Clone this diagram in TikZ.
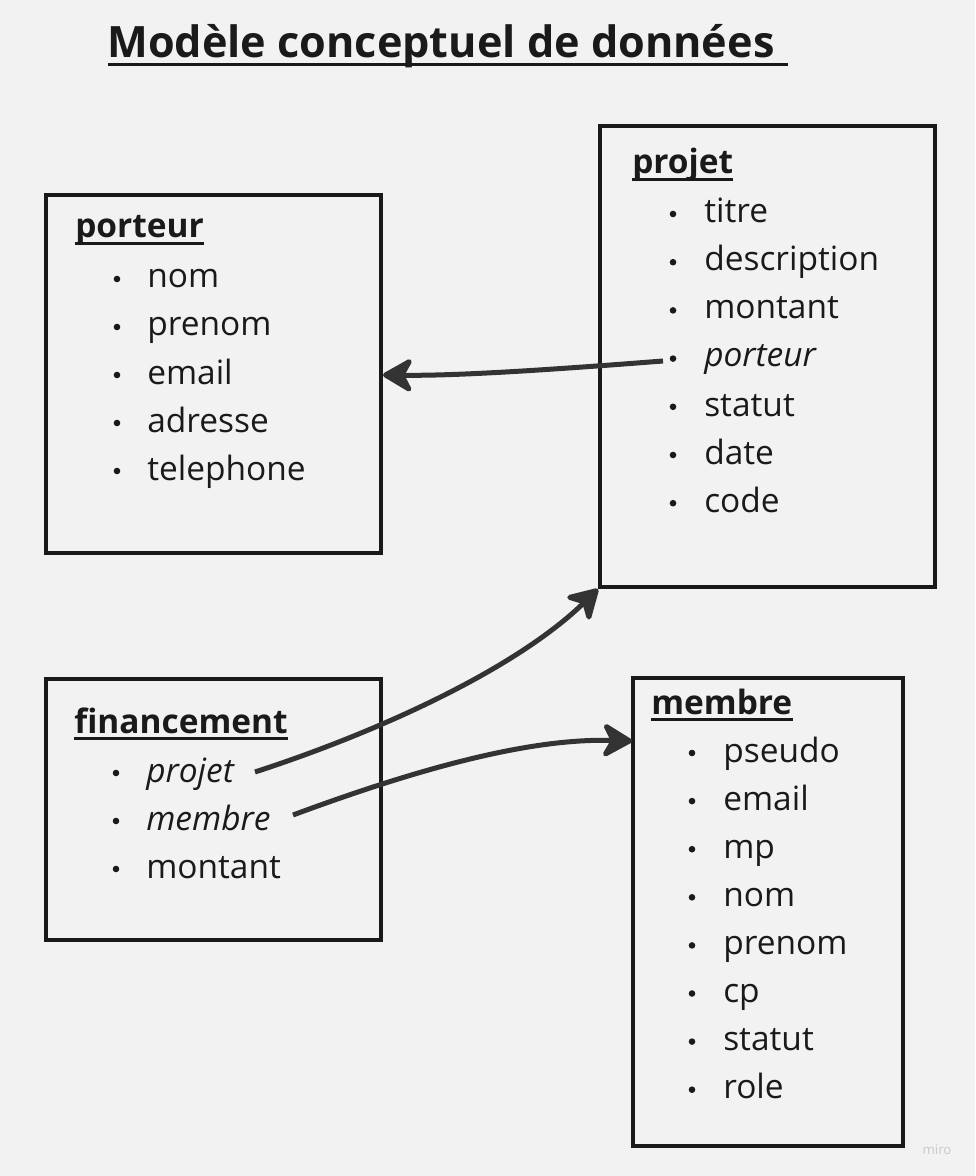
\documentclass[tikz,border=0pt]{standalone}
\usepackage{fontspec}
\setmainfont{Open Sans}
\usetikzlibrary{arrows.meta}
\definecolor{bg}{HTML}{F2F2F2}
\definecolor{ink}{HTML}{1A1A1A}
\definecolor{arr}{HTML}{333333}
\definecolor{wm}{HTML}{C8C8D0}
\tikzset{
  entbox/.style={draw=ink, line width=3pt, fill=none},
  hdr/.style={inner sep=0pt, anchor=base west, text=ink, font=\fontsize{25.1pt}{28pt}\selectfont\bfseries},
  item/.style={inner sep=0pt, anchor=base west, text=ink, font=\fontsize{25.1pt}{28pt}\selectfont},
  itemit/.style={item, font=\fontsize{25.1pt}{28pt}\selectfont\itshape},
  ulin/.style={draw=ink, line width=1.9pt},
  link/.style={draw=arr, line width=3.75pt, -{Stealth[length=26pt, width=30pt, inset=8pt, round]}},
}
\newcommand{\bul}[2]{\fill[ink] (#1,#2-9) circle (3.3);}
\begin{document}
\begin{tikzpicture}[x=0.75pt, y=-0.75pt]
\useasboundingbox (0,0) rectangle (975,1176);
\fill[bg] (0,0) rectangle (975,1176);

% title
\node[inner sep=0pt, anchor=base west, text=ink, font=\fontsize{32.4pt}{36pt}\selectfont\bfseries] (title) at (107,58) {Modèle conceptuel de données};
\draw[draw=ink, line width=2.3pt] (108,64.5) -- (788,64.5);

% boxes
\draw[entbox] (46,195) rectangle (381,553);
\draw[entbox] (600,126) rectangle (935,587);
\draw[entbox] (46,679) rectangle (381,940);
\draw[entbox] (633,678) rectangle (903,1146);
\coordinate (porteurE) at (383,375);
\coordinate (projetSW) at (598,589);
\coordinate (membreW) at (632,741);

% porteur
\node[hdr] (hporteur) at (75,238) {porteur};
\draw[ulin] ([yshift=-4pt]hporteur.base west) -- ([yshift=-4pt]hporteur.base east);
\foreach \t [count=\i from 0] in {nom,prenom,email,adresse,telephone}{
  \node[item] (po\i) at (147,288+48*\i) {\t};
  \bul{117}{288+48*\i}
}

% projet
\node[hdr] (hprojet) at (632,174) {projet};
\draw[ulin] ([yshift=-4pt]hprojet.base west) -- ([yshift=-4pt]hprojet.base east);
\node[item] (pr0) at (704,223) {titre};
\node[item] (pr1) at (704,271) {description};
\node[item] (pr2) at (704,319) {montant};
\node[itemit] (pr3) at (704,367) {porteur};
\node[item] (pr4) at (704,416) {statut};
\node[item] (pr5) at (704,464) {date};
\node[item] (pr6) at (704,512) {code};
\foreach \i in {0,...,6}{ \bul{673}{223+48.2*\i} }
\coordinate (prporteur) at (663,361);

% financement
\node[hdr] (hfin) at (74,733) {financement};
\draw[ulin] ([yshift=-4pt]hfin.base west) -- ([yshift=-4pt]hfin.base east);
\node[itemit] (fi0) at (146,782) {projet};
\node[itemit] (fi1) at (146,830) {membre};
\node[item] (fi2) at (146,878) {montant};
\foreach \i in {0,1,2}{ \bul{116}{782+48*\i} }
\coordinate (fiprojet) at (255,772);
\coordinate (fimembre) at (293,815);

% membre
\node[hdr] (hmembre) at (651,714) {membre};
\draw[ulin] ([yshift=-4pt]hmembre.base west) -- ([yshift=-4pt]hmembre.base east);
\foreach \t [count=\i from 0] in {pseudo,email,mp,nom,prenom,cp,statut,role}{
  \node[item] (me\i) at (723,762+48.1*\i) {\t};
  \bul{692}{762+48.1*\i}
}

% connectors
\draw[link] (prporteur) .. controls (560,369) and (460,376) .. (porteurE);
\draw[link] (fiprojet) .. controls (390,728) and (520,665) .. (projetSW);
\draw[link] (fimembre) .. controls (420,768) and (530,738) .. (membreW);

% watermark
\node[inner sep=0pt, text=wm, font=\fontsize{10pt}{11pt}\selectfont] (wmark) at (937,1150) {miro};
\end{tikzpicture}
\end{document}
